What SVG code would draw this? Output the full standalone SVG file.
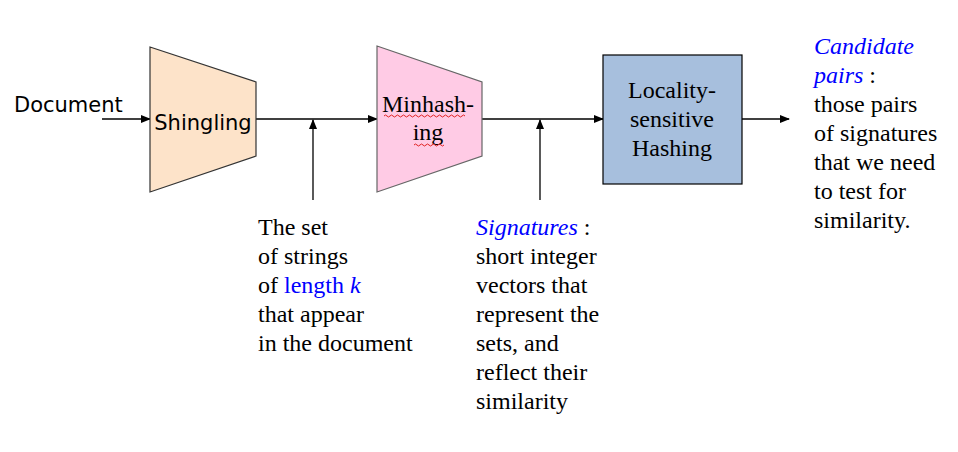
<svg xmlns="http://www.w3.org/2000/svg" width="958" height="452" viewBox="0 0 958 452">
<defs>
<marker id="ah" markerWidth="10" markerHeight="8" refX="9" refY="4" orient="auto" markerUnits="userSpaceOnUse">
<path d="M0,0 L10,4 L0,8 Z" fill="#000"/>
</marker>
<style>
.sans{font-family:"DejaVu Sans",Verdana,sans-serif;font-size:21px;fill:#000}
.serif{font-family:"Liberation Serif","Times New Roman",serif;font-size:24px;fill:#000}
.blue{fill:#0000ff}
.conn{stroke:#000;stroke-width:1.3;fill:none;marker-end:url(#ah)}
.sq{stroke:#e02020;stroke-width:1;fill:none}
</style>
</defs>
<rect width="958" height="452" fill="#fff"/>
<g id="connectors">
<line class="conn" x1="102" y1="119" x2="150" y2="119"/>
<line class="conn" x1="256" y1="119" x2="377" y2="119"/>
<line class="conn" x1="482" y1="119" x2="603" y2="119"/>
<line class="conn" x1="742" y1="119" x2="789" y2="119"/>
<line class="conn" x1="313" y1="200" x2="313" y2="120"/>
<line class="conn" x1="540" y1="200" x2="540" y2="120"/>
</g>
<g id="document">
<text class="sans" x="14" y="112">Document</text>
</g>
<g id="shingling">
<polygon points="150,47 256,82 256,156 150,192" fill="#fde3c9" stroke="#333" stroke-width="1.2"/>
<text class="sans" x="203" y="130" text-anchor="middle">Shingling</text>
</g>
<g id="minhashing">
<polygon points="377,46 482,82 482,156 377,192" fill="#ffcbe5" stroke="#666" stroke-width="1.2"/>
<text class="serif" x="428" y="112" text-anchor="middle">Minhash-</text>
<text class="serif" x="428" y="140" text-anchor="middle">ing</text>
<path class="sq" d="M384,116 q1.5,-2 3,0 t3,0 t3,0 t3,0 t3,0 t3,0 t3,0 t3,0 t3,0 t3,0 t3,0 t3,0 t3,0 t3,0 t3,0 t3,0 t3,0 t3,0 t3,0 t3,0 t3,0 t3,0 t3,0 t3,0 t3,0 t3,0 t3,0"/>
<path class="sq" d="M414,145 q1.5,-2 3,0 t3,0 t3,0 t3,0 t3,0 t3,0 t3,0 t3,0 t3,0 t3,0"/>
</g>
<g id="lsh">
<rect x="603" y="55" width="139" height="129" fill="#a7bfdd" stroke="#000" stroke-width="1.2"/>
<text class="serif" x="672" y="98" text-anchor="middle">Locality-</text>
<text class="serif" x="672" y="127" text-anchor="middle">sensitive</text>
<text class="serif" x="672" y="156" text-anchor="middle">Hashing</text>
</g>
<g id="shingles-label">
<text class="serif" x="258" y="235">The set</text>
<text class="serif" x="258" y="264">of strings</text>
<text class="serif" x="258" y="293">of <tspan class="blue">length <tspan font-style="italic">k</tspan></tspan></text>
<text class="serif" x="258" y="322">that appear</text>
<text class="serif" x="258" y="351">in the document</text>
</g>
<g id="signatures-label">
<text class="serif" x="476" y="235"><tspan class="blue" font-style="italic">Signatures</tspan> :</text>
<text class="serif" x="476" y="264">short integer</text>
<text class="serif" x="476" y="293">vectors that</text>
<text class="serif" x="476" y="322">represent the</text>
<text class="serif" x="476" y="351">sets, and</text>
<text class="serif" x="476" y="380">reflect their</text>
<text class="serif" x="476" y="409">similarity</text>
</g>
<g id="candidate-label">
<text class="serif blue" x="814" y="54" font-style="italic">Candidate</text>
<text class="serif" x="814" y="83"><tspan class="blue" font-style="italic">pairs</tspan> :</text>
<text class="serif" x="814" y="112">those pairs</text>
<text class="serif" x="814" y="141">of signatures</text>
<text class="serif" x="814" y="170">that we need</text>
<text class="serif" x="814" y="199">to test for</text>
<text class="serif" x="814" y="228">similarity.</text>
</g>
</svg>
